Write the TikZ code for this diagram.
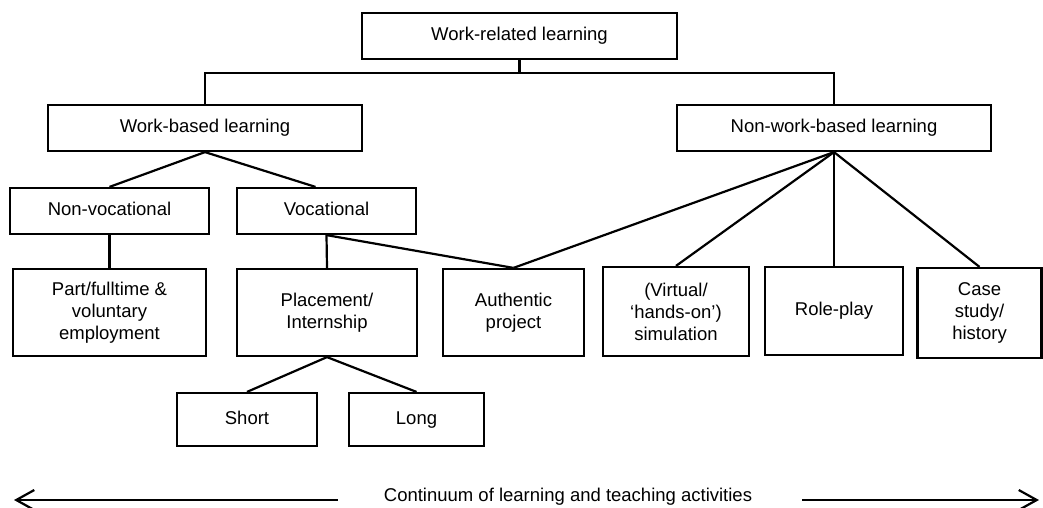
\documentclass[tikz,border=0pt]{standalone}
\usepackage{fontspec}
\setmainfont{Liberation Sans}
\usetikzlibrary{arrows.meta,calc,positioning}

\begin{document}
\begin{tikzpicture}[x=1pt,y=-1pt,line width=2.2pt,
    every node/.style={font=\fontsize{18.5}{22}\selectfont},
    unit/.style={draw,align=center,inner sep=0pt,minimum height=46pt,text height=13.5pt,text depth=4pt},
    activity/.style={draw,align=center,inner sep=0pt,minimum height=87pt},
    span/.style={{Straight Barb[length=18pt,width=20pt]}-}]

    \useasboundingbox (0,0) rectangle (1043,507);

    % top of the tree
    \node[unit,minimum width=315pt] (WRL) at (519.5,36) {Work-related learning};
    \node[unit,minimum width=314pt] (WBL) at (205,128) {Work-based learning};
    \node[unit,minimum width=314pt] (NWBL) at (834,128) {Non-work-based learning};
    \coordinate (SPLIT) at ($(WRL.south)+(0,13)$);
    \path[draw] (WRL.south) -- (SPLIT);
    \path[draw] (WBL.north) |- (SPLIT) -| (NWBL.north);

    \node[unit,minimum width=199pt] (NONVOC) at (109.5,211) {Non-vocational};
    \node[unit,minimum width=179pt] (VOC) at (326.5,211) {Vocational};
    \path[draw] (WBL.south) -- (NONVOC.north);
    \path[draw] (WBL.south) -- ([xshift=-11pt]VOC.north);

    % learning and teaching activities
    \node[activity,minimum width=193pt] (PART) at (109.5,312.5) {Part/fulltime \&\\voluntary\\employment};
    \node[activity,minimum width=180pt] (PLACEMENT) at (327,312.5) {Placement/\\Internship};
    \node[activity,minimum width=141pt] (AUTHENTIC) at (513.5,312.5) {Authentic\\project};
    \node[activity,minimum width=146pt,minimum height=89pt] (SIMULATION) at (676,311.5) {(Virtual/\\‘hands-on’)\\simulation};
    \node[unit,minimum width=138pt,minimum height=88pt] (ROLEPLAY) at (834,311) {Role-play};
    \node[activity,minimum width=124pt,minimum height=90pt] (CASESTUDY) at (979.5,313) {Case\\study/\\history};

    \path[draw] (NONVOC.south) -- (PART.north);
    \path[draw] (VOC.south) -- (PLACEMENT.north);
    \path[draw] (VOC.south) -- (AUTHENTIC.north);
    \foreach \n in {AUTHENTIC,SIMULATION,ROLEPLAY,CASESTUDY} {
      \path[draw] (NWBL.south) -- (\n.north);
    }

    \node[unit,minimum width=140pt,minimum height=53pt] (SHORT) at (247,419.5) {Short};
    \node[unit,minimum width=135pt,minimum height=53pt] (LONG) at (416.5,419.5) {Long};
    \path[draw] (PLACEMENT.south) -- (SHORT.north);
    \path[draw] (PLACEMENT.south) -- (LONG.north);

    % the continuum along the bottom
    \node[inner sep=0pt] (CONTINUUM) at (568,497) {Continuum of learning and teaching activities};
    \coordinate (LEFTEND) at (14,500);
    \coordinate (RIGHTEND) at (1039,500);
    \path[draw,span] (LEFTEND) -- (338,500);
    \path[draw,span] (RIGHTEND) -- (802,500);
  \end{tikzpicture}
\end{document}
